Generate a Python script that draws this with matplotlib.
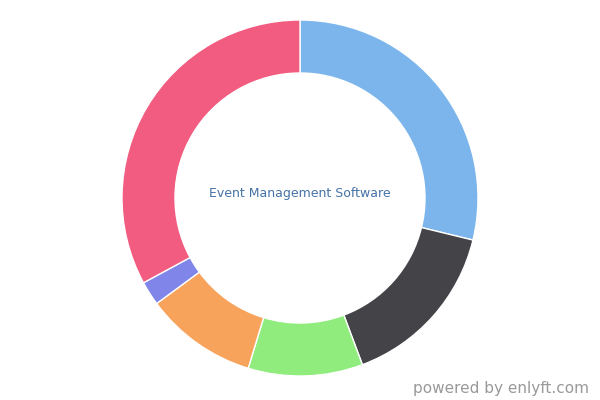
import matplotlib
matplotlib.use("Agg")
import matplotlib.pyplot as plt

labels = ["Blue", "Dark", "Green", "Orange", "Purple", "Pink"]
values = [28.8, 15.5, 10.4, 10.2, 2.2, 32.9]
colors = ["#7cb5ec", "#434348", "#90ed7d", "#f7a35c", "#8085e9", "#f15c80"]
center_label = "Event Management Software"
credit = "powered by enlyft.com"

fig = plt.figure(figsize=(6, 4), dpi=100)
ax = fig.add_axes([0, 0, 1, 1])

ax.pie(values, colors=colors, startangle=-90, counterclock=True,
       center=(300, 198), radius=178,
       wedgeprops=dict(width=53, edgecolor="white", linewidth=1))
ax.set_xlim(0, 600)
ax.set_ylim(400, 0)
ax.set_aspect("equal")
ax.axis("off")

ax.text(300, 193, center_label, ha="center", va="center", fontsize=9,
        color="#4572a7", family="DejaVu Sans")
ax.text(589, 389, credit, ha="right", va="center", fontsize=11,
        color="#999999", family="DejaVu Sans")

fig.savefig("out.png", dpi=100)
